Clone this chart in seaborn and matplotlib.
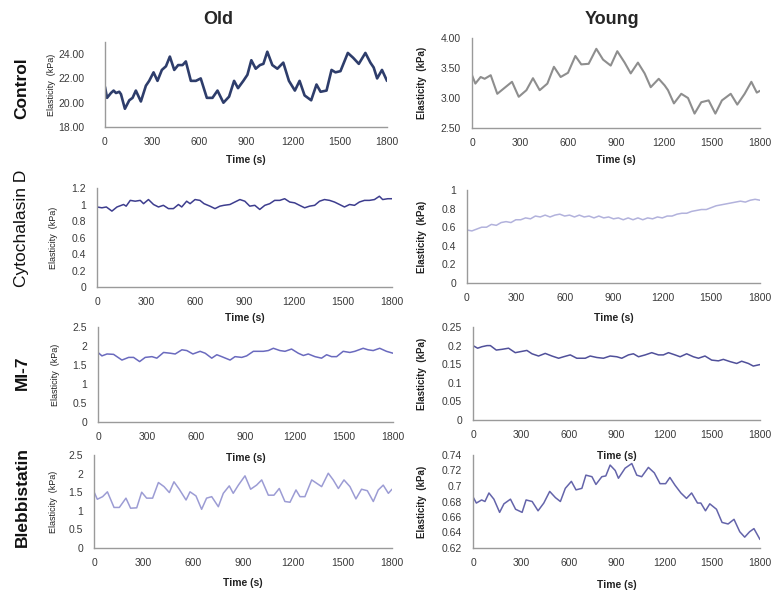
import numpy as np
import pandas as pd
import seaborn as sns
import matplotlib.pyplot as plt
from matplotlib.ticker import FuncFormatter

# Old / Control
old_ctrl_t = [0, 13, 38, 55, 70, 91, 102, 127, 155, 176, 197, 229, 261, 282, 310, 335, 363, 389, 414, 442,
              467, 495, 516, 548, 580, 611, 650, 686, 718, 756, 792, 824, 849, 883, 909, 934, 962, 989, 1011, 1036,
              1068, 1100, 1138, 1174, 1212, 1242, 1274, 1316, 1350, 1376, 1414, 1446, 1471, 1503, 1550, 1584, 1620, 1662, 1694, 1715,
              1737, 1768, 1800]
old_ctrl_v = [21.3, 20.4, 20.8, 21.0, 20.8, 20.9, 20.7, 19.5, 20.2, 20.4, 21.0, 20.1, 21.4, 21.8, 22.5, 21.8, 22.7, 23.0, 23.8, 22.7,
              23.1, 23.1, 23.4, 21.8, 21.8, 22.0, 20.4, 20.4, 21.0, 20.0, 20.5, 21.8, 21.2, 21.8, 22.3, 23.5, 22.8, 23.1, 23.2, 24.2,
              23.1, 22.8, 23.3, 21.8, 21.0, 21.8, 20.6, 20.2, 21.5, 20.9, 21.0, 22.7, 22.5, 22.6, 24.1, 23.7, 23.2, 24.1, 23.3, 22.9,
              22.0, 22.7, 21.8]

# Young / Control
young_ctrl_t = [0, 21, 54, 79, 117, 158, 204, 250, 292, 340, 381, 423, 471, 512, 554, 600, 646, 683, 729, 777,
                819, 867, 908, 954, 992, 1037, 1079, 1117, 1167, 1204, 1225, 1262, 1308, 1350, 1391, 1433, 1479, 1521, 1562, 1617,
                1658, 1704, 1746, 1780, 1800]
young_ctrl_v = [3.38, 3.24, 3.35, 3.32, 3.38, 3.07, 3.17, 3.27, 3.02, 3.13, 3.33, 3.13, 3.24, 3.52, 3.35, 3.42, 3.70, 3.56, 3.57, 3.82,
                3.64, 3.54, 3.78, 3.59, 3.41, 3.59, 3.41, 3.18, 3.32, 3.21, 3.13, 2.91, 3.07, 3.00, 2.74, 2.93, 2.96, 2.74, 2.96, 3.07,
                2.89, 3.07, 3.27, 3.09, 3.12]

# Old / Cytochalasin D
old_cyto_t = [0, 30, 57, 91, 122, 162, 178, 203, 233, 264, 284, 314, 345, 375, 405, 436, 466, 497, 517, 547,
              568, 598, 628, 653, 689, 720, 750, 774, 811, 841, 872, 902, 932, 963, 993, 1024, 1054, 1084, 1115, 1145,
              1176, 1206, 1236, 1267, 1297, 1328, 1358, 1388, 1419, 1449, 1480, 1510, 1541, 1571, 1601, 1632, 1662, 1693, 1723, 1743,
              1774, 1800]
old_cyto_v = [0.97, 0.96, 0.97, 0.92, 0.97, 1.00, 0.98, 1.05, 1.04, 1.05, 1.01, 1.06, 1.00, 0.97, 0.99, 0.95, 0.95, 1.00, 0.97, 1.04,
              1.01, 1.06, 1.05, 1.01, 0.98, 0.95, 0.98, 0.99, 1.00, 1.03, 1.06, 1.04, 0.98, 0.99, 0.94, 0.99, 1.01, 1.05, 1.05, 1.07,
              1.03, 1.02, 0.99, 0.96, 0.98, 0.99, 1.04, 1.06, 1.05, 1.03, 1.00, 0.97, 1.00, 0.99, 1.03, 1.05, 1.05, 1.06, 1.10, 1.06,
              1.07, 1.07]

# Young / Cytochalasin D (every 30 s)
young_cyto_t = list(range(0, 1801, 30))
young_cyto_v = [0.57, 0.56, 0.58, 0.60, 0.60, 0.63, 0.62, 0.65, 0.66, 0.65,
                0.68, 0.68, 0.70, 0.69, 0.72, 0.71, 0.73, 0.71, 0.73, 0.74,
                0.72, 0.73, 0.71, 0.73, 0.71, 0.72, 0.70, 0.72, 0.70, 0.71,
                0.69, 0.70, 0.68, 0.70, 0.68, 0.70, 0.68, 0.70, 0.69, 0.71,
                0.70, 0.72, 0.72, 0.74, 0.75, 0.75, 0.77, 0.78, 0.79, 0.79,
                0.81, 0.83, 0.84, 0.85, 0.86, 0.87, 0.88, 0.87, 0.89, 0.90,
                0.89]

# Old / MI-7
old_mi7_t = [0, 24, 55, 95, 146, 187, 217, 254, 288, 329, 359, 400, 441, 471, 512, 542, 579, 623, 654, 694,
             725, 755, 806, 836, 877, 907, 948, 1009, 1039, 1070, 1110, 1141, 1181, 1222, 1253, 1283, 1324, 1364, 1395, 1425,
             1456, 1496, 1537, 1567, 1618, 1648, 1679, 1719, 1760, 1800]
old_mi7_v = [1.83, 1.74, 1.79, 1.78, 1.63, 1.70, 1.70, 1.59, 1.70, 1.72, 1.68, 1.83, 1.81, 1.79, 1.90, 1.88, 1.79, 1.86, 1.81, 1.68,
             1.77, 1.72, 1.63, 1.72, 1.70, 1.74, 1.86, 1.86, 1.88, 1.94, 1.88, 1.86, 1.92, 1.81, 1.75, 1.79, 1.72, 1.68, 1.77, 1.72,
             1.72, 1.86, 1.83, 1.86, 1.94, 1.90, 1.88, 1.94, 1.86, 1.81]

# Young / MI-7
young_mi7_t = [0, 29, 56, 88, 109, 146, 182, 223, 265, 301, 338, 370, 411, 453, 495, 537, 568, 610, 651, 704,
               735, 777, 818, 860, 902, 933, 975, 1006, 1038, 1080, 1121, 1163, 1194, 1226, 1267, 1299, 1340, 1382, 1414, 1455,
               1497, 1539, 1570, 1612, 1654, 1685, 1727, 1758, 1789, 1800]
young_mi7_v = [0.200, 0.193, 0.197, 0.200, 0.200, 0.188, 0.190, 0.193, 0.181, 0.184, 0.187, 0.178, 0.172, 0.179, 0.172, 0.166, 0.170, 0.175, 0.166, 0.166,
               0.172, 0.168, 0.166, 0.172, 0.170, 0.166, 0.175, 0.178, 0.170, 0.175, 0.181, 0.175, 0.175, 0.181, 0.175, 0.170, 0.178, 0.170, 0.166, 0.172,
               0.161, 0.159, 0.163, 0.157, 0.152, 0.158, 0.152, 0.145, 0.148, 0.149]

# Old / Blebbistatin
old_bleb_t = [0, 20, 52, 81, 121, 153, 193, 221, 258, 288, 318, 354, 389, 423, 455, 483, 515, 556, 580, 616,
              650, 680, 711, 751, 781, 817, 841, 872, 912, 946, 982, 1013, 1053, 1087, 1119, 1153, 1184, 1220, 1244, 1274,
              1315, 1345, 1375, 1415, 1445, 1476, 1510, 1546, 1582, 1616, 1651, 1687, 1717, 1747, 1778, 1800]
old_bleb_v = [1.51, 1.31, 1.38, 1.51, 1.09, 1.09, 1.34, 1.07, 1.08, 1.50, 1.34, 1.34, 1.76, 1.65, 1.49, 1.78, 1.58, 1.29, 1.51, 1.40,
              1.04, 1.34, 1.38, 1.11, 1.47, 1.67, 1.47, 1.69, 1.94, 1.58, 1.69, 1.83, 1.42, 1.42, 1.60, 1.25, 1.23, 1.56, 1.38, 1.38,
              1.83, 1.74, 1.65, 2.01, 1.83, 1.60, 1.83, 1.65, 1.32, 1.58, 1.54, 1.25, 1.56, 1.69, 1.47, 1.58]

# Young / Blebbistatin
young_bleb_t = [0, 21, 54, 75, 100, 131, 167, 194, 235, 267, 308, 333, 371, 408, 444, 481, 517, 548, 579, 617,
                646, 683, 708, 746, 771, 808, 833, 860, 892, 912, 954, 996, 1027, 1058, 1100, 1137, 1173, 1208, 1235, 1267,
                1304, 1339, 1371, 1408, 1429, 1458, 1485, 1527, 1562, 1600, 1637, 1673, 1704, 1735, 1762, 1800]
young_bleb_v = [0.686, 0.678, 0.682, 0.680, 0.691, 0.683, 0.666, 0.677, 0.683, 0.670, 0.666, 0.682, 0.680, 0.668, 0.678, 0.693, 0.685, 0.680, 0.697, 0.706,
                0.695, 0.697, 0.714, 0.712, 0.702, 0.712, 0.713, 0.727, 0.720, 0.710, 0.723, 0.729, 0.714, 0.712, 0.724, 0.717, 0.703, 0.703, 0.711, 0.701,
                0.691, 0.684, 0.691, 0.678, 0.678, 0.668, 0.677, 0.670, 0.653, 0.651, 0.657, 0.641, 0.634, 0.641, 0.645, 0.631]

row_names = ["Control", "Cytochalasin D", "MI-7", "Blebbistatin"]
col_names = ["Old", "Young"]
x_ticks = [0, 300, 600, 900, 1200, 1500, 1800]

sns.set_style("white")
plt.rcParams['font.family'] = ['Liberation Sans', 'DejaVu Sans']

W, H = 774, 595
fig = plt.figure(figsize=(W / 100, H / 100), dpi=100)


def box(l, t, r, b):
    return [l / W, 1 - b / H, (r - l) / W, (b - t) / H]


# (t, v, rect in px, ylim, yticks, fmt, colour, lw, ylabel x px, ylabel bold, time label y px, ytick pad)
panels = [
    (old_ctrl_t, old_ctrl_v, (105, 42, 387, 127), (18, 25), [18, 20, 22, 24], "{:.2f}", "#2E3D6B", 1.9, 52, False, 160, 12),
    (young_ctrl_t, young_ctrl_v, (472, 38, 760, 128), (2.5, 4.0), [2.5, 3.0, 3.5, 4.0], "{:.2f}", "#8E8E8E", 1.5, 422, True, 160, 5),
    (old_cyto_t, old_cyto_v, (97, 188, 392, 287), (0, 1.2), [0, 0.2, 0.4, 0.6, 0.8, 1.0, 1.2], "{:g}", "#3D3D8E", 1.1, 53, False, 318, 5),
    (young_cyto_t, young_cyto_v, (467, 190, 760, 283), (0, 1.0), [0, 0.2, 0.4, 0.6, 0.8, 1.0], "{:g}", "#B2B2DC", 1.1, 422, True, 318, 5),
    (old_mi7_t, old_mi7_v, (98, 327, 393, 422), (0, 2.5), [0, 0.5, 1, 1.5, 2, 2.5], "{:g}", "#6A6ABE", 1.1, 55, False, 458, 5),
    (young_mi7_t, young_mi7_v, (473, 327, 760, 420), (0, 0.25), [0, 0.05, 0.1, 0.15, 0.2, 0.25], "{:g}", "#50509A", 1.1, 422, True, 456, 5),
    (old_bleb_t, old_bleb_v, (94, 455, 392, 548), (0, 2.5), [0, 0.5, 1, 1.5, 2, 2.5], "{:g}", "#9C9CD4", 1.1, 53, False, 583, 5),
    (young_bleb_t, young_bleb_v, (473, 455, 760, 548), (0.62, 0.74), [0.62, 0.64, 0.66, 0.68, 0.70, 0.72, 0.74], "{:g}", "#6464AA", 1.1, 422, True, 585, 5),
]

for t, v, px, ylim, yticks, fmt, colour, lw, ylab_x, ylab_bold, time_y, ypad in panels:
    l, top, r, b = px
    ax = fig.add_axes(box(l, top, r, b))
    df = pd.DataFrame({"Time": t, "Elasticity": v})
    sns.lineplot(data=df, x="Time", y="Elasticity", ax=ax, color=colour, linewidth=lw,
                 solid_joinstyle="round", solid_capstyle="round")
    ax.set_xlim(0, 1800)
    ax.set_ylim(*ylim)
    ax.set_xticks(x_ticks)
    ax.set_yticks(yticks)
    ax.yaxis.set_major_formatter(FuncFormatter(lambda val, pos, f=fmt: f.format(round(val, 3))))
    ax.set_xlabel("")
    ax.set_ylabel("")
    for s in ["top", "right"]:
        ax.spines[s].set_visible(False)
    for s in ["left", "bottom"]:
        ax.spines[s].set_color("#9A9A9A")
        ax.spines[s].set_linewidth(1.0)
    ax.tick_params(axis="both", direction="out", length=3, width=0.8, color="#9A9A9A",
                   labelsize=7.5, labelcolor="#3A3A3A", pad=4)
    ax.tick_params(axis="y", pad=ypad)
    ax.patch.set_alpha(0)

    fig.text(ylab_x / W, 1 - ((top + b) / 2) / H, "Elasticity  (kPa)", rotation=90,
             ha="center", va="center", fontsize=7 if ylab_bold else 6.5,
             fontweight="bold" if ylab_bold else "normal", color="#222222")
    fig.text(((l + r) / 2) / W, 1 - time_y / H, "Time (s)", ha="center", va="center",
             fontsize=7.5, fontweight="bold", color="#222222")

fig.text(218 / W, 1 - 20 / H, col_names[0], ha="center", va="center", fontsize=13, fontweight="bold")
fig.text(612 / W, 1 - 20 / H, col_names[1], ha="center", va="center", fontsize=13, fontweight="bold")

row_y = [88, 228, 373, 497]
row_bold = [True, False, True, True]
for name, y, bold in zip(row_names, row_y, row_bold):
    fig.text(22 / W, 1 - y / H, name, rotation=90, ha="center", va="center", fontsize=12.5,
             fontweight="bold" if bold else "normal", color="#111111")

fig.savefig("out.png", dpi=100)
